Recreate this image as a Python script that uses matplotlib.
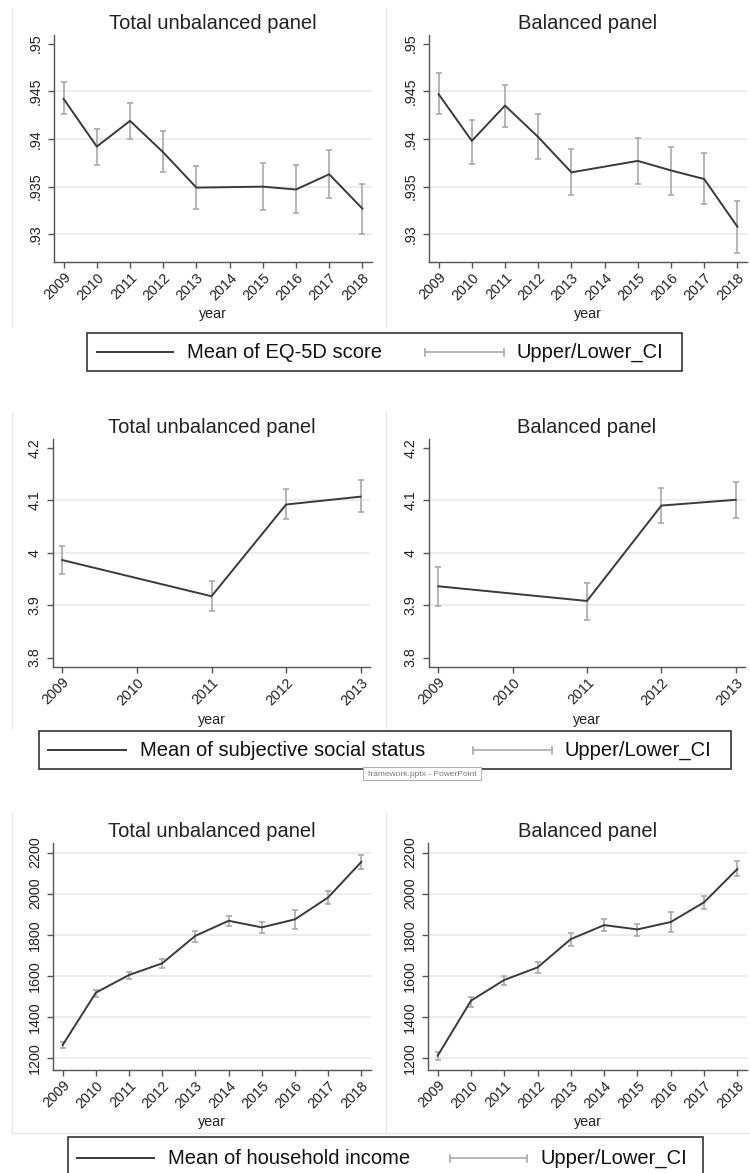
import numpy as np
import matplotlib
matplotlib.use("Agg")
import matplotlib.pyplot as plt
from matplotlib.lines import Line2D
from matplotlib.patches import Rectangle

plt.rcParams['font.family'] = ['Liberation Sans', 'DejaVu Sans']

# EQ-5D score (2014 wave missing)
years_eq = [2009, 2010, 2011, 2012, 2013, 2015, 2016, 2017, 2018]
eq_total_mean = [.9442, .9392, .9419, .9386, .9349, .9350, .9347, .9363, .9327]
eq_total_hi = [.9460, .9410, .9438, .9408, .9372, .9375, .9373, .9388, .9353]
eq_total_lo = [.9426, .9373, .9400, .9365, .9327, .9325, .9322, .9338, .9300]
eq_bal_mean = [.9447, .9398, .9435, .9402, .9365, .9377, .9367, .9358, .9308]
eq_bal_hi = [.9469, .9420, .9457, .9426, .9389, .9401, .9392, .9385, .9335]
eq_bal_lo = [.9426, .9374, .9413, .9379, .9341, .9353, .9341, .9332, .9280]
eq_ticks = [.93, .935, .94, .945, .95]
eq_ticklabels = ['.93', '.935', '.94', '.945', '.95']
eq_grid = [.93, .935, .94, .945]

# subjective social status (2010 wave missing)
years_sss = [2009, 2011, 2012, 2013]
sss_total_mean = [3.986, 3.917, 4.092, 4.107]
sss_total_hi = [4.013, 3.946, 4.121, 4.138]
sss_total_lo = [3.960, 3.888, 4.064, 4.077]
sss_bal_mean = [3.936, 3.908, 4.090, 4.101]
sss_bal_hi = [3.973, 3.943, 4.124, 4.135]
sss_bal_lo = [3.899, 3.872, 4.056, 4.067]
sss_ticks = [3.8, 3.9, 4.0, 4.1, 4.2]
sss_ticklabels = ['3.8', '3.9', '4', '4.1', '4.2']
sss_grid = [3.9, 4.0, 4.1]

# household income
years_inc = [2009, 2010, 2011, 2012, 2013, 2014, 2015, 2016, 2017, 2018]
inc_total_mean = [1263, 1518, 1604, 1661, 1795, 1868, 1836, 1875, 1982, 2155]
inc_total_hi = [1276, 1531, 1620, 1680, 1818, 1892, 1860, 1919, 2013, 2189]
inc_total_lo = [1247, 1498, 1583, 1640, 1766, 1842, 1810, 1828, 1951, 2120]
inc_bal_mean = [1211, 1479, 1580, 1641, 1779, 1847, 1826, 1862, 1958, 2120]
inc_bal_hi = [1228, 1498, 1599, 1666, 1807, 1876, 1852, 1909, 1987, 2157]
inc_bal_lo = [1190, 1450, 1555, 1615, 1746, 1818, 1794, 1812, 1925, 2087]
inc_ticks = [1200, 1400, 1600, 1800, 2000, 2200]
inc_ticklabels = ['1200', '1400', '1600', '1800', '2000', '2200']
inc_grid = inc_ticks

xticks_long = list(range(2009, 2019))
xticks_short = list(range(2009, 2014))

W, H = 750, 1173
fig = plt.figure(figsize=(W / 100, H / 100), dpi=100)


def fx(x):
    return x / W


def fy(y):
    return 1 - y / H


def panel(rect, title, years, mean, lo, hi, xticks, xpad, ylim, yticks, yticklabels, grid):
    l, t, r, b = rect
    ax = fig.add_axes([fx(l), fy(b), fx(r - l), (b - t) / H])
    mean = np.array(mean)
    err = [mean - np.array(lo), np.array(hi) - mean]
    for g in grid:
        ax.axhline(g, color='#ebebeb', lw=1.3, zorder=0)
    ax.errorbar(years, mean, yerr=err, fmt='none', ecolor='#a9a9a9',
                elinewidth=1.2, capsize=2.4, capthick=1.2, zorder=2)
    ax.plot(years, mean, color='#3a3a3a', lw=1.4, zorder=3)
    ax.set_xlim(xticks[0] - xpad, xticks[-1] + xpad)
    ax.set_ylim(*ylim)
    ax.set_xticks(xticks)
    ax.set_xticklabels([str(v) for v in xticks], rotation=45, ha='right',
                       va='top', rotation_mode='anchor', fontsize=10.3)
    ax.set_yticks(yticks)
    ax.set_yticklabels(yticklabels, rotation=90, va='center', fontsize=10.3)
    for s in ['top', 'right']:
        ax.spines[s].set_visible(False)
    for s in ['left', 'bottom']:
        ax.spines[s].set_color('#555555')
        ax.spines[s].set_linewidth(1.0)
    ax.tick_params(axis='both', direction='out', length=4, width=1,
                   color='#555555', labelcolor='#222222')
    ax.tick_params(axis='y', pad=4)
    ax.tick_params(axis='x', pad=2)
    ax.set_title(title, fontsize=14.5, color='#222222', pad=4)
    ax.set_xlabel('year', fontsize=10.3, color='#222222')
    ax.xaxis.set_label_coords(0.5, -0.2)
    ax.set_facecolor('none')
    return ax


def legend_row(box, yc, line_x, label, ci_x, ci_label):
    l, t, r, b = box
    fig.patches.append(Rectangle((fx(l), fy(b)), fx(r - l), (b - t) / H,
                                 transform=fig.transFigure, fill=False,
                                 edgecolor='#333333', lw=1.2))
    fig.lines.append(Line2D([fx(line_x[0]), fx(line_x[1])], [fy(yc)] * 2,
                            transform=fig.transFigure, color='#3a3a3a', lw=1.4))
    fig.text(fx(line_x[1] + 14), fy(yc), label, fontsize=14.5, va='center',
             color='#111111')
    fig.lines.append(Line2D([fx(ci_x[0]), fx(ci_x[1])], [fy(yc)] * 2,
                            transform=fig.transFigure, color='#a9a9a9', lw=1.2))
    for cx in ci_x:
        fig.lines.append(Line2D([fx(cx)] * 2, [fy(yc - 3.5), fy(yc + 3.5)],
                                transform=fig.transFigure, color='#a9a9a9', lw=1.2))
    fig.text(fx(ci_x[1] + 13), fy(yc), ci_label, fontsize=14.5, va='center',
             color='#111111')


def frame_line(x0, y0, x1, y1):
    fig.lines.append(Line2D([fx(x0), fx(x1)], [fy(y0), fy(y1)],
                            transform=fig.transFigure, color='#e6e6e6', lw=1))


# faint borders of the exported graph windows
for top, bot in [(8, 327), (412, 728), (813, 1133)]:
    frame_line(12, top, 12, bot)
    frame_line(386, top, 386, bot)
frame_line(12, 1133, 750, 1133)

pad10 = 0.29
pad5 = 0.125

# row 1: EQ-5D
eq_lim = (0.9271, 0.9509)
panel((54, 35, 372, 262), 'Total unbalanced panel', years_eq, eq_total_mean,
      eq_total_lo, eq_total_hi, xticks_long, pad10, eq_lim, eq_ticks, eq_ticklabels, eq_grid)
panel((429, 35, 747, 262), 'Balanced panel', years_eq, eq_bal_mean,
      eq_bal_lo, eq_bal_hi, xticks_long, pad10, eq_lim, eq_ticks, eq_ticklabels, eq_grid)
legend_row((87, 333, 682, 371), 352, (97, 173), 'Mean of EQ-5D score',
           (425, 504), 'Upper/Lower_CI')

# row 2: subjective social status
sss_lim = (3.782, 4.217)
panel((53, 439, 370, 667), 'Total unbalanced panel', years_sss, sss_total_mean,
      sss_total_lo, sss_total_hi, xticks_short, pad5, sss_lim, sss_ticks, sss_ticklabels, sss_grid)
panel((429, 439, 745, 667), 'Balanced panel', years_sss, sss_bal_mean,
      sss_bal_lo, sss_bal_hi, xticks_short, pad5, sss_lim, sss_ticks, sss_ticklabels, sss_grid)
legend_row((39, 731, 731, 769), 750, (48, 126), 'Mean of subjective social status',
           (473, 552), 'Upper/Lower_CI')

# row 3: household income
inc_lim = (1141.6, 2246.7)
panel((53, 843, 371, 1070), 'Total unbalanced panel', years_inc, inc_total_mean,
      inc_total_lo, inc_total_hi, xticks_long, pad10, inc_lim, inc_ticks, inc_ticklabels, inc_grid)
panel((428, 843, 747, 1070), 'Balanced panel', years_inc, inc_bal_mean,
      inc_bal_lo, inc_bal_hi, xticks_long, pad10, inc_lim, inc_ticks, inc_ticklabels, inc_grid)
legend_row((68, 1137, 703, 1190), 1158, (77, 154), 'Mean of household income',
           (450, 527), 'Upper/Lower_CI')

# window tooltip over the second legend
fig.patches.append(Rectangle((fx(363), fy(780)), fx(118), 13 / H,
                             transform=fig.transFigure, facecolor='white',
                             edgecolor='#b0b0b0', lw=0.8, zorder=5))
fig.text(fx(368), fy(774), 'framework.pptx - PowerPoint', fontsize=6,
         color='#777777', va='center', zorder=6)

fig.savefig('out.png', dpi=100, facecolor='white')
